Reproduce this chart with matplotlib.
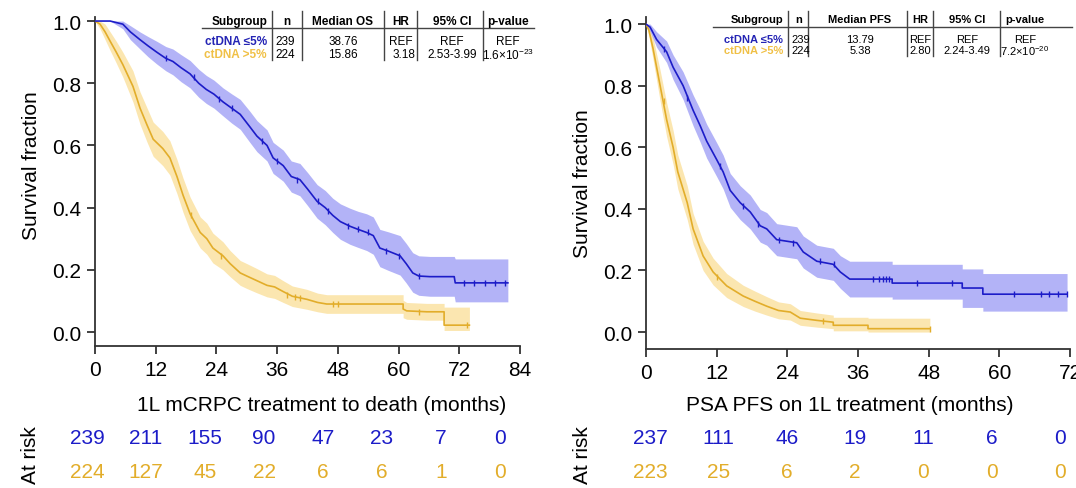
import numpy as np
import matplotlib
matplotlib.use("Agg")
import matplotlib.pyplot as plt
from matplotlib.lines import Line2D

plt.rcParams['font.family'] = ['Liberation Sans', 'DejaVu Sans']
plt.rcParams['mathtext.fontset'] = 'custom'
plt.rcParams['mathtext.rm'] = 'Liberation Sans'
plt.rcParams['mathtext.it'] = 'Liberation Sans'

# ---------------- data: OS panel (left) ----------------
os_low_t = [0, 3, 5.5, 7, 8.9, 10.5, 12.2, 14, 15.4, 17, 18.8, 20.5, 22, 23.5, 25.3, 27, 28.7,
            30.6, 32, 34, 35.2, 37.2, 38.8, 40.5, 42, 43.9, 45.5, 47, 48.5, 50.4, 52, 53.7, 55,
            56.3, 58, 60.3, 61.5, 62.8, 64, 66.2, 71, 71.2, 81.6]
os_low_s = [1.0, 1.0, 0.99, 0.965, 0.94, 0.92, 0.90, 0.88, 0.87, 0.85, 0.83, 0.80, 0.78, 0.765,
            0.74, 0.72, 0.70, 0.66, 0.63, 0.60, 0.56, 0.535, 0.50, 0.49, 0.46, 0.42, 0.40, 0.375,
            0.355, 0.34, 0.33, 0.32, 0.31, 0.27, 0.26, 0.245, 0.22, 0.19, 0.18, 0.178, 0.178,
            0.158, 0.158]
os_low_lo = [1.0, 1.0, 0.975, 0.94, 0.91, 0.885, 0.862, 0.84, 0.827, 0.805, 0.785, 0.755, 0.735,
             0.72, 0.695, 0.672, 0.652, 0.61, 0.58, 0.55, 0.51, 0.485, 0.45, 0.438, 0.407, 0.366,
             0.345, 0.32, 0.298, 0.282, 0.272, 0.262, 0.25, 0.21, 0.198, 0.183, 0.158, 0.128,
             0.118, 0.115, 0.115, 0.097, 0.097]
os_low_hi = [1.0, 1.0, 1.0, 0.985, 0.965, 0.95, 0.935, 0.918, 0.91, 0.892, 0.873, 0.845, 0.825,
             0.81, 0.785, 0.766, 0.748, 0.71, 0.68, 0.65, 0.61, 0.585, 0.55, 0.542, 0.513, 0.474,
             0.455, 0.43, 0.412, 0.398, 0.388, 0.38, 0.37, 0.33, 0.322, 0.31, 0.285, 0.255,
             0.245, 0.243, 0.243, 0.235, 0.235]
os_low_cens_t = [14, 19.5, 24.5, 27, 33, 36, 40, 44, 46, 50, 52, 54, 57.5, 60, 64, 73, 75, 77, 79, 81]
os_low_cens_s = [0.88, 0.82, 0.75, 0.72, 0.615, 0.55, 0.49, 0.42, 0.39, 0.34, 0.33, 0.32, 0.26,
                 0.245, 0.18, 0.158, 0.158, 0.158, 0.158, 0.158]

os_high_t = [0, 1, 2, 3, 4.2, 5.5, 6.5, 7.5, 8.9, 10.3, 11.5, 13.4, 14.8, 16.2, 17.4, 18.8, 20.8,
             22.1, 23.3, 25.3, 26.7, 28.7, 30, 32, 34, 35.5, 37.2, 39, 41.9, 44, 45.8, 60.9, 60.9,
             61.6, 65.6, 69, 69, 74]
os_high_s = [1.0, 0.99, 0.965, 0.935, 0.90, 0.86, 0.825, 0.79, 0.72, 0.665, 0.62, 0.59, 0.56, 0.50,
             0.44, 0.38, 0.32, 0.30, 0.27, 0.245, 0.22, 0.19, 0.18, 0.165, 0.15, 0.145, 0.13,
             0.115, 0.105, 0.095, 0.09, 0.09, 0.074, 0.068, 0.065, 0.065, 0.022, 0.022]
os_high_lo = [1.0, 0.975, 0.94, 0.905, 0.865, 0.82, 0.78, 0.74, 0.668, 0.61, 0.565, 0.535, 0.505,
              0.445, 0.385, 0.326, 0.27, 0.25, 0.222, 0.2, 0.178, 0.15, 0.14, 0.126, 0.113, 0.108,
              0.095, 0.082, 0.073, 0.065, 0.06, 0.06, 0.046, 0.041, 0.038, 0.038, 0.005, 0.005]
os_high_hi = [1.0, 1.0, 0.99, 0.965, 0.935, 0.9, 0.87, 0.84, 0.772, 0.72, 0.675, 0.645, 0.615,
              0.555, 0.495, 0.434, 0.37, 0.35, 0.318, 0.29, 0.262, 0.23, 0.22, 0.204, 0.187, 0.182,
              0.165, 0.148, 0.137, 0.125, 0.12, 0.12, 0.102, 0.095, 0.092, 0.092, 0.08, 0.08]
os_high_cens_t = [19, 25, 38, 39.5, 40.5, 47, 48, 64, 73.5]
os_high_cens_s = [0.375, 0.245, 0.12, 0.113, 0.11, 0.09, 0.09, 0.065, 0.022]

# ---------------- data: PFS panel (right) ----------------
pfs_low_t = [0, 0.7, 1.8, 3.5, 4.6, 6.3, 8, 9.2, 10.3, 12, 13.1, 14.3, 16, 17.7, 19.4, 20.5, 22.2,
             25.6, 26.7, 29, 31.8, 33, 34.6, 41.8, 41.8, 53.7, 53.7, 57.2, 57.2, 71.5]
pfs_low_s = [1.0, 0.99, 0.95, 0.91, 0.86, 0.80, 0.72, 0.67, 0.62, 0.56, 0.52, 0.46, 0.42, 0.39,
             0.345, 0.335, 0.30, 0.29, 0.26, 0.23, 0.22, 0.195, 0.172, 0.172, 0.159, 0.159, 0.143,
             0.143, 0.123, 0.123]
pfs_low_lo = [1.0, 0.975, 0.925, 0.875, 0.82, 0.755, 0.67, 0.617, 0.565, 0.505, 0.465, 0.405, 0.365,
              0.335, 0.292, 0.282, 0.248, 0.238, 0.208, 0.178, 0.168, 0.142, 0.114, 0.114, 0.107,
              0.107, 0.08, 0.08, 0.068, 0.068]
pfs_low_hi = [1.0, 1.0, 0.975, 0.945, 0.9, 0.845, 0.77, 0.723, 0.675, 0.615, 0.575, 0.515, 0.475,
              0.445, 0.398, 0.388, 0.352, 0.342, 0.312, 0.282, 0.272, 0.248, 0.23, 0.23, 0.22, 0.22,
              0.205, 0.205, 0.19, 0.19]
pfs_low_cens_t = [3, 7, 12.5, 16.5, 19, 22.5, 25, 29.5, 32, 38.5, 39.5, 40.2, 40.8, 41.3, 46, 52,
                  62.5, 67, 68.5, 70, 71.5]
pfs_low_cens_s = [0.92, 0.76, 0.54, 0.41, 0.35, 0.30, 0.29, 0.23, 0.22, 0.172, 0.172, 0.172, 0.172,
                  0.172, 0.159, 0.159, 0.123, 0.123, 0.123, 0.123, 0.123]

pfs_high_t = [0, 0.5, 1.2, 2.4, 3.5, 4.6, 5.4, 7, 8, 9.7, 11.4, 13.7, 16.5, 18.5, 20.5, 22.5, 24.5,
              26.2, 29, 31.8, 31.8, 37.7, 37.7, 48.2]
pfs_high_s = [1.0, 0.98, 0.92, 0.80, 0.69, 0.60, 0.52, 0.42, 0.335, 0.247, 0.195, 0.15, 0.117, 0.10,
              0.084, 0.07, 0.065, 0.045, 0.038, 0.032, 0.022, 0.022, 0.011, 0.011]
pfs_high_lo = [1.0, 0.96, 0.885, 0.75, 0.635, 0.545, 0.465, 0.365, 0.285, 0.2, 0.153, 0.112, 0.083,
               0.068, 0.055, 0.043, 0.039, 0.022, 0.016, 0.011, 0.004, 0.004, 0.0, 0.0]
pfs_high_hi = [1.0, 0.995, 0.955, 0.85, 0.745, 0.655, 0.575, 0.475, 0.385, 0.295, 0.24, 0.19, 0.152,
               0.133, 0.115, 0.098, 0.092, 0.07, 0.062, 0.055, 0.048, 0.048, 0.045, 0.045]
pfs_high_cens_t = [3, 12, 30, 48.2]
pfs_high_cens_s = [0.75, 0.18, 0.036, 0.011]

# ---------------- at risk ----------------
os_risk_t = [0, 12, 24, 36, 48, 60, 72, 84]
os_risk_low = [239, 211, 155, 90, 47, 23, 7, 0]
os_risk_high = [224, 127, 45, 22, 6, 6, 1, 0]
pfs_risk_t = [0, 12, 24, 36, 48, 60, 72]
pfs_risk_low = [237, 111, 46, 19, 11, 6, 0]
pfs_risk_high = [223, 25, 6, 2, 0, 0, 0]

# ---------------- tables ----------------
groups = ["ctDNA \u22645%", "ctDNA >5%"]
os_header = ["Subgroup", "n", "Median OS", "HR", "95% CI", "p-value"]
os_rows = [["239", "38.76", "REF", "REF", "REF"],
           ["224", "15.86", "3.18", "2.53-3.99", "1.6\u00d710$^{-23}$"]]
pfs_header = ["Subgroup", "n", "Median PFS", "HR", "95% CI", "p-value"]
pfs_rows = [["239", "13.79", "REF", "REF", "REF"],
            ["224", "5.38", "2.80", "2.24-3.49", "7.2\u00d710$^{-20}$"]]

BLUE = '#1c1cc8'
BLUE_BAND = '#a6a6f6'
GOLD = '#e2ad2a'
GOLD_BAND = '#fbe2a2'
BLUE_TXT = '#2424b4'
GOLD_TXT = '#f0c046'

W, H = 1076, 489
fig = plt.figure(figsize=(W / 100, H / 100), dpi=100)


def fx(x):
    return x / W


def fy(y):
    return 1 - y / H


def style_ax(ax, xmax):
    for s in ['top', 'right']:
        ax.spines[s].set_visible(False)
    for s in ['left', 'bottom']:
        ax.spines[s].set_linewidth(1.3)
        ax.spines[s].set_color('#333333')
    ax.set_xlim(0, xmax)
    ax.set_xticks(np.arange(0, xmax + 1, 12))
    ax.set_yticks([0, 0.2, 0.4, 0.6, 0.8, 1.0])
    ax.set_yticklabels(['0.0', '0.2', '0.4', '0.6', '0.8', '1.0'])
    ax.tick_params(labelsize=15, length=6, width=1.3, color='#333333', pad=4)


def draw_km(ax, t, s, lo, hi, ct, cs, col, band):
    ax.fill_between(t, lo, hi, color=band, alpha=0.85, lw=0, zorder=1)
    ax.plot(t, s, color=col, lw=1.2, zorder=3)
    ax.plot(ct, cs, ls='none', marker='|', ms=5, mew=1.0, color=col, zorder=4)


# left panel
axL = fig.add_axes([fx(95), fy(347), fx(425), 329 / H])
style_ax(axL, 84)
axL.set_ylim(-0.045, 1.013)
draw_km(axL, os_high_t, os_high_s, os_high_lo, os_high_hi, os_high_cens_t, os_high_cens_s, GOLD, GOLD_BAND)
draw_km(axL, os_low_t, os_low_s, os_low_lo, os_low_hi, os_low_cens_t, os_low_cens_s, BLUE, BLUE_BAND)
axL.set_ylabel("Survival fraction", fontsize=15, labelpad=8)
axL.yaxis.label.set_y(0.55)
axL.set_xlabel("1L mCRPC treatment to death (months)", fontsize=15)
axL.xaxis.set_label_coords(0.534, -0.150)

# right panel
axR = fig.add_axes([fx(646), fy(350), fx(424), 332 / H])
style_ax(axR, 72)
axR.set_ylim(-0.055, 1.023)
draw_km(axR, pfs_high_t, pfs_high_s, pfs_high_lo, pfs_high_hi, pfs_high_cens_t, pfs_high_cens_s, GOLD, GOLD_BAND)
draw_km(axR, pfs_low_t, pfs_low_s, pfs_low_lo, pfs_low_hi, pfs_low_cens_t, pfs_low_cens_s, BLUE, BLUE_BAND)
axR.set_ylabel("Survival fraction", fontsize=15, labelpad=8)
axR.set_xlabel("PSA PFS on 1L treatment (months)", fontsize=15)
axR.xaxis.set_label_coords(0.481, -0.140)


# at-risk rows
def at_risk(x0, x1, xmax, times, low, high, lab_x):
    ar = fig.add_axes([fx(x0), 0, fx(x1 - x0), 69 / H])
    ar.set_xlim(0, xmax)
    ar.set_ylim(0, 1)
    ar.axis('off')
    for t, a, b in zip(times, low, high):
        ar.text(t, 0.739, str(a), color=BLUE, fontsize=15, ha='center', va='center')
        ar.text(t, 0.246, str(b), color=GOLD, fontsize=15, ha='center', va='center')
    fig.text(fx(lab_x), fy(455), "At risk", rotation=90, fontsize=15, ha='center', va='center')


at_risk(87, 500, 84, os_risk_t, os_risk_low, os_risk_high, 30)
at_risk(650, 1060, 72, pfs_risk_t, pfs_risk_low, pfs_risk_high, 582)

vlines_top = 12


# tables
def table(sub_r, col_x, vlines, hline, ys, header, rows, fs):
    yh, yl, y1, y2 = ys
    fig.text(fx(sub_r), fy(yh), header[0], fontsize=fs, weight='bold', ha='right', va='center')
    for x, h in zip(col_x, header[1:]):
        fig.text(fx(x), fy(yh), h, fontsize=fs, weight='bold', ha='center', va='center')
    fig.add_artist(Line2D([fx(hline[0]), fx(hline[1])], [fy(yl), fy(yl)], color='#444444', lw=1.0))
    for vx in vlines:
        fig.add_artist(Line2D([fx(vx), fx(vx)], [fy(vlines_top), fy(y2 + 6)], color='#444444', lw=1.0))
    for g, col, y, row in zip(groups, [BLUE_TXT, GOLD_TXT], [y1, y2], rows):
        fig.text(fx(sub_r), fy(y), g, fontsize=fs, weight='bold', color=col, ha='right', va='center')
        fig.text(fx(vlines[0] + 3), fy(y), row[0], fontsize=fs, ha='left', va='center')
        fig.text(fx(col_x[1]), fy(y), row[1], fontsize=fs, ha='center', va='center')
        if row[2] == "REF":
            fig.text(fx(col_x[2]), fy(y), row[2], fontsize=fs, ha='center', va='center')
        else:
            fig.text(fx(vlines[3] - 2), fy(y), row[2], fontsize=fs, ha='right', va='center')
        fig.text(fx(col_x[3]), fy(y), row[3], fontsize=fs, ha='center', va='center')
        fig.text(fx(col_x[4]), fy(y), row[4], fontsize=fs, ha='center', va='center')


table(267, [287, 343, 401, 452, 508], [272, 302, 384, 417, 483], (202, 534),
      (22, 29, 42, 55), os_header, os_rows, 8.5)
table(783, [799, 860, 920, 967, 1025], [788, 808, 907, 933, 1000], (713, 1072),
      (20, 28, 40, 51), pfs_header, pfs_rows, 8)

fig.savefig("out.png", dpi=100)
